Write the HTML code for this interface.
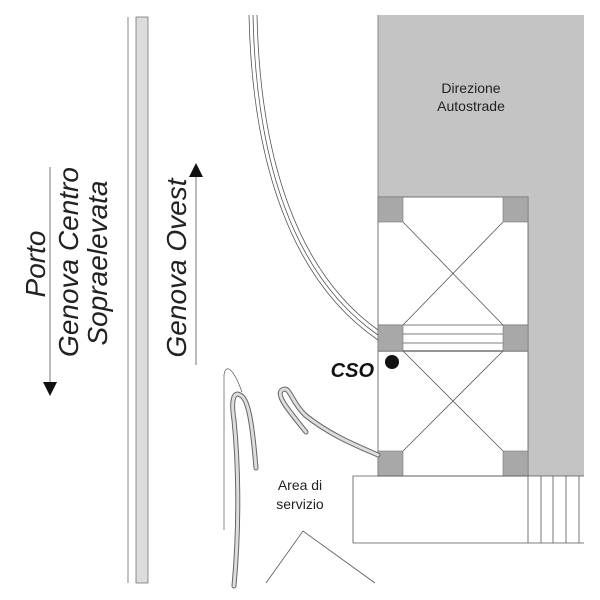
<!DOCTYPE html>
<html><head><meta charset="utf-8"><style>
html,body{margin:0;padding:0;background:#fff;width:600px;height:600px;overflow:hidden}
svg{display:block}
text{font-family:"Liberation Sans",Arial,sans-serif}
</style></head><body>
<svg width="600" height="600" viewBox="0 0 600 600" xmlns="http://www.w3.org/2000/svg">
<rect x="378" y="15" width="206" height="182" fill="#c4c4c4"/>
<rect x="528" y="197" width="56" height="279" fill="#c4c4c4"/>
<line x1="378" y1="15" x2="378" y2="197" stroke="#888" stroke-width="1"/>
<text x="471" y="93" font-size="14" text-anchor="middle" fill="#222">Direzione</text>
<text x="471" y="111" font-size="14" text-anchor="middle" fill="#222">Autostrade</text>
<g stroke="#555" stroke-width="0.8" fill="none">
<rect x="378" y="197" width="150" height="279"/>
<line x1="403" y1="222" x2="503" y2="325"/>
<line x1="503" y1="222" x2="403" y2="325"/>
<line x1="403" y1="351" x2="503" y2="451"/>
<line x1="503" y1="351" x2="403" y2="451"/>
<line x1="403" y1="334" x2="503" y2="334"/>
<line x1="403" y1="343" x2="503" y2="343"/>
<line x1="378" y1="351" x2="528" y2="351" stroke-width="1.2"/>
<line x1="378" y1="325" x2="528" y2="325"/>
</g>
<g fill="#a8a8a8" stroke="#777" stroke-width="0.6">
<rect x="378" y="197" width="25" height="25"/><rect x="503" y="197" width="25" height="25"/>
<rect x="378" y="325" width="25" height="26"/><rect x="503" y="325" width="25" height="26"/>
<rect x="378" y="451" width="25" height="25"/><rect x="503" y="451" width="25" height="25"/>
</g>
<g stroke="#555" stroke-width="0.8" fill="none">
<path d="M584 476 H353 V543 H584"/>
<line x1="528" y1="476" x2="528" y2="543"/>
<line x1="541" y1="476" x2="541" y2="543"/>
<line x1="553" y1="476" x2="553" y2="543"/>
<line x1="566" y1="476" x2="566" y2="543"/>
<line x1="579" y1="476" x2="579" y2="543"/>
</g>
<circle cx="392" cy="362" r="7" fill="#111"/>
<text x="374" y="377" font-size="20" font-weight="bold" font-style="italic" text-anchor="end" fill="#111">CSO</text>
<g stroke="#555" stroke-width="0.8" fill="none">
<path d="M249 15 C252 160 290 280 378 340"/>
<path d="M253 15 C256 160 293 276 378 335"/>
<path d="M257 15 C260 158 297 272 378 330"/>
</g>
<line x1="128" y1="17" x2="128" y2="583" stroke="#666" stroke-width="0.8"/>
<rect x="136" y="17" width="12" height="566" fill="#dcdcdc" stroke="#777" stroke-width="0.8"/>
<line x1="50" y1="167" x2="50" y2="385" stroke="#555" stroke-width="0.8"/>
<polygon points="43,382 57,382 50,396" fill="#111"/>
<line x1="196" y1="175" x2="196" y2="365" stroke="#555" stroke-width="0.8"/>
<polygon points="189,177 203,177 196,163" fill="#111"/>
<g font-size="28" font-style="italic" fill="#222" text-anchor="middle">
<text transform="translate(45,264) rotate(-90)">Porto</text>
<text transform="translate(78,262) rotate(-90)">Genova Centro</text>
<text transform="translate(107,263) rotate(-90)">Sopraelevata</text>
<text transform="translate(186,268) rotate(-90)">Genova Ovest</text>
</g>
<text x="300" y="490" font-size="14" text-anchor="middle" fill="#222">Area di</text>
<text x="300" y="509" font-size="14" text-anchor="middle" fill="#222">servizio</text>
<path d="M224 530 L224 375 C226 362 234 370 242 392" stroke="#666" stroke-width="0.8" fill="none"/>
<g fill="none" stroke-linecap="round">
<path d="M234 586 C240 520 238 460 234 420 C230 395 236 392 240 395 C248 398 252 420 256 468" stroke="#666" stroke-width="5"/>
<path d="M234 586 C240 520 238 460 234 420 C230 395 236 392 240 395 C248 398 252 420 256 468" stroke="#ddd" stroke-width="3"/>
<path d="M306 432 C290 412 275 395 282 390 C290 385 290 400 305 415 C330 435 355 445 378 455" stroke="#666" stroke-width="5"/>
<path d="M306 432 C290 412 275 395 282 390 C290 385 290 400 305 415 C330 435 355 445 378 455" stroke="#ddd" stroke-width="3"/>
</g>
<path d="M266 583 L303 531 L375 583" stroke="#555" stroke-width="0.8" fill="none"/>
</svg>
</body></html>
